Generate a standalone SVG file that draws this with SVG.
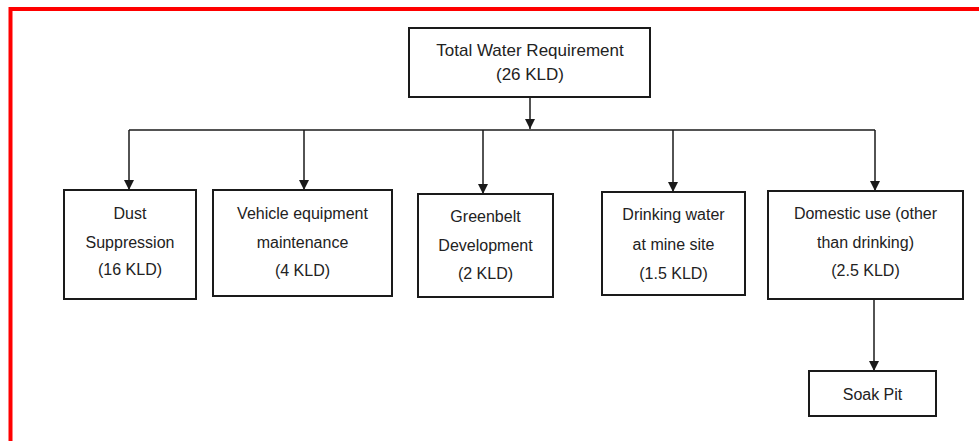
<svg xmlns="http://www.w3.org/2000/svg" width="979" height="441" viewBox="0 0 979 441">
<defs>
<style>
.box{fill:#fff;stroke:#1a1a1a;stroke-width:2}
.t{font-family:"Liberation Sans",Arial,sans-serif;font-size:16px;fill:#222;text-anchor:middle}
.big{font-size:17px}
.c{fill:none;stroke:#1a1a1a;stroke-width:1.5}
</style>
<marker id="ah" viewBox="0 0 10 10" refX="10" refY="5" markerWidth="10" markerHeight="10" markerUnits="userSpaceOnUse" orient="auto">
<path d="M0,0 L10,5 L0,10 Z" fill="#1a1a1a"/>
</marker>
</defs>
<rect width="979" height="441" fill="#fff"/>
<path d="M10.5 441 V9 H979" fill="none" stroke="#ff0000" stroke-width="4"/>
<g id="connectors">
<line class="c" x1="530" y1="97" x2="530" y2="129" marker-end="url(#ah)"/>
<line class="c" x1="129" y1="130" x2="875" y2="130"/>
<line class="c" x1="129" y1="130" x2="129" y2="190" marker-end="url(#ah)"/>
<line class="c" x1="304" y1="130" x2="304" y2="190" marker-end="url(#ah)"/>
<line class="c" x1="483" y1="130" x2="483" y2="194" marker-end="url(#ah)"/>
<line class="c" x1="673" y1="130" x2="673" y2="192" marker-end="url(#ah)"/>
<line class="c" x1="875" y1="130" x2="875" y2="191" marker-end="url(#ah)"/>
<line class="c" x1="874" y1="299" x2="874" y2="371" marker-end="url(#ah)"/>
</g>
<g id="total">
<rect class="box" x="409" y="28" width="241" height="69"/>
<text class="t big" x="530" y="56">Total Water Requirement</text>
<text class="t big" x="530" y="80">(26 KLD)</text>
</g>
<g id="dust">
<rect class="box" x="64" y="190" width="132" height="109"/>
<text class="t" x="130" y="219">Dust</text>
<text class="t" x="130" y="248">Suppression</text>
<text class="t" x="130" y="275">(16 KLD)</text>
</g>
<g id="vehicle">
<rect class="box" x="213" y="190" width="179" height="106"/>
<text class="t" x="302.5" y="219">Vehicle equipment</text>
<text class="t" x="302.5" y="248">maintenance</text>
<text class="t" x="302.5" y="276">(4 KLD)</text>
</g>
<g id="greenbelt">
<rect class="box" x="418" y="194" width="135" height="103"/>
<text class="t" x="485.5" y="222">Greenbelt</text>
<text class="t" x="485.5" y="251">Development</text>
<text class="t" x="485.5" y="279">(2 KLD)</text>
</g>
<g id="drinking">
<rect class="box" x="602" y="192" width="143" height="103"/>
<text class="t" x="673.5" y="220">Drinking water</text>
<text class="t" x="673.5" y="250">at mine site</text>
<text class="t" x="673.5" y="279">(1.5 KLD)</text>
</g>
<g id="domestic">
<rect class="box" x="768" y="191" width="195" height="108"/>
<text class="t" x="865.5" y="219">Domestic use (other</text>
<text class="t" x="865.5" y="248">than drinking)</text>
<text class="t" x="865.5" y="276">(2.5 KLD)</text>
</g>
<g id="soakpit">
<rect class="box" x="809" y="371" width="127" height="45"/>
<text class="t" x="872.5" y="400">Soak Pit</text>
</g>
</svg>
